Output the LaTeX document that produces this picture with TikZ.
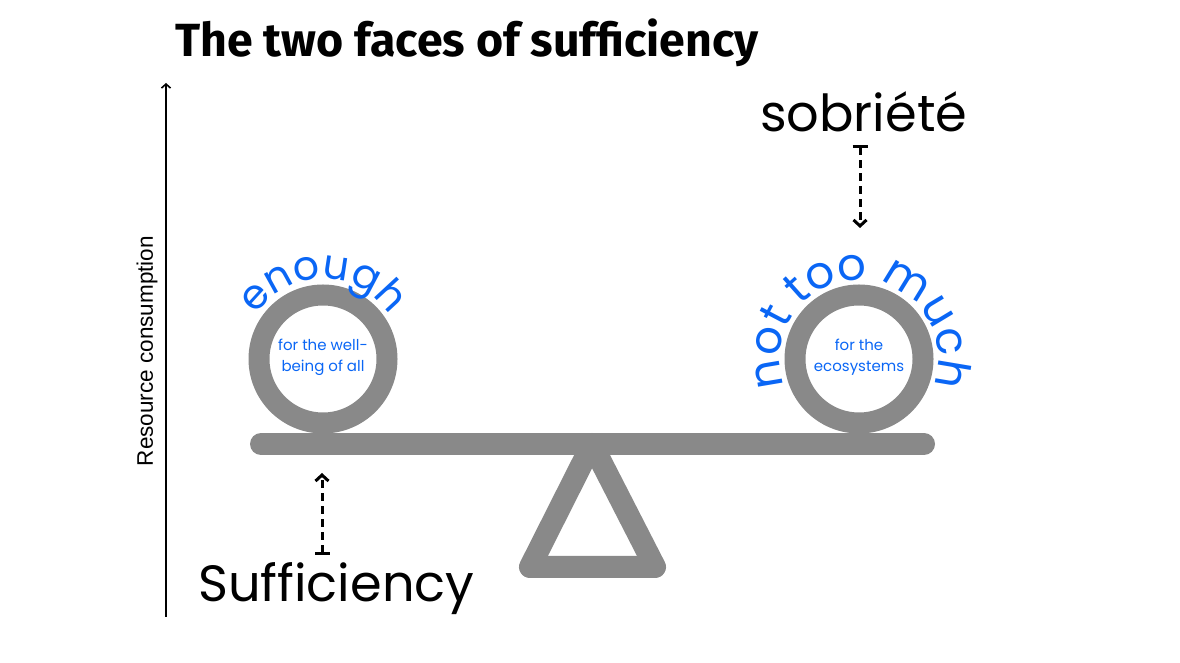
\documentclass[tikz,border=0pt]{standalone}
\usepackage{fontspec}
\setmainfont{Poppins}
\newfontfamily\headfont{Fira Sans}
\newfontfamily\axisfont{Liberation Sans}
\usetikzlibrary{arrows.meta,decorations.text,positioning}
\definecolor{seesaw}{HTML}{898989}
\definecolor{faceblue}{HTML}{0A66F5}
\tikzset{
  ring/.style    = {draw=seesaw, line width=21pt},
  plank/.style   = {draw=seesaw, line width=22pt, line cap=round, line join=round},
  word/.style    = {font=\fontsize{51}{51}\selectfont, inner sep=0pt},
  inside/.style  = {text=faceblue, font=\fontsize{15}{21}\selectfont, align=center},
  pointer/.style = {line width=3pt, dash pattern=on 8pt off 5pt,
                    {Bar[width=15pt]}-{Straight Barb[length=6pt, width=13pt]}}
}

\begin{document}
\begin{tikzpicture}[x=1pt, y=1pt]
\useasboundingbox (0,0) rectangle (1180,663);

% Title
\draw node [anchor=base west, inner sep=0pt, name=title] at (175,606)
  {\headfont\bfseries\fontsize{46.5}{46.5}\selectfont The two faces of sufficiency};

% Axis
\coordinate (axisbot) at (166,46);
\coordinate (axistop) at (166,580);
\draw[line width=1.6pt, -{Straight Barb[length=4pt, width=9pt]}] (axisbot) -- (axistop);
\draw node [rotate=90, inner sep=0pt, name=axislabel] at (147,312)
  {\axisfont\fontsize{22.5}{22.5}\selectfont Resource consumption};

% Seesaw
\coordinate (ringL) at (323,304);
\coordinate (ringR) at (859,304);
\coordinate (beamL) at (261,219);
\coordinate (beamR) at (924,219);
\coordinate (pivot) at (592,219);
\coordinate (footL) at (530,96);
\coordinate (footR) at (655,96);
\draw[plank] (pivot) -- (footL) -- (footR) -- cycle;
\draw[plank] (beamL) -- (beamR);
\draw[ring] (ringL) circle [radius=64];
\draw[ring] (ringR) circle [radius=64];

% Words round the rings
\path[decorate, decoration={text along path, text align=center,
  text={|\fontsize{41}{41}\selectfont\color{faceblue}|enough}}]
  (ringL) ++(200:80) arc (200:-20:80);
\path[decorate, decoration={text along path, text align=center,
  text={|\fontsize{45}{45}\selectfont\color{faceblue}|not too much}}]
  (ringR) ++(200:79) arc (200:-20:79);
\draw node [inside, name=wellbeing] at (323,306) {for the well-\\being of all};
\draw node [inside, name=ecosys] at (859,306) {for the\\ecosystems};

% Labels
\draw node [word, anchor=base west, name=suff] at (198,61) {Sufficiency};
\draw node [word, anchor=base west, name=sobr] at (760,531) {sobriété};

% Pointers
\coordinate (tailL) at (322,108);
\coordinate (tipL) at (322,190);
\coordinate (tailR) at (860,518);
\coordinate (tipR) at (860,435);
\draw[pointer] (tailL) -- (tipL);
\draw[pointer] (tailR) -- (tipR);

\end{tikzpicture}
\end{document}
